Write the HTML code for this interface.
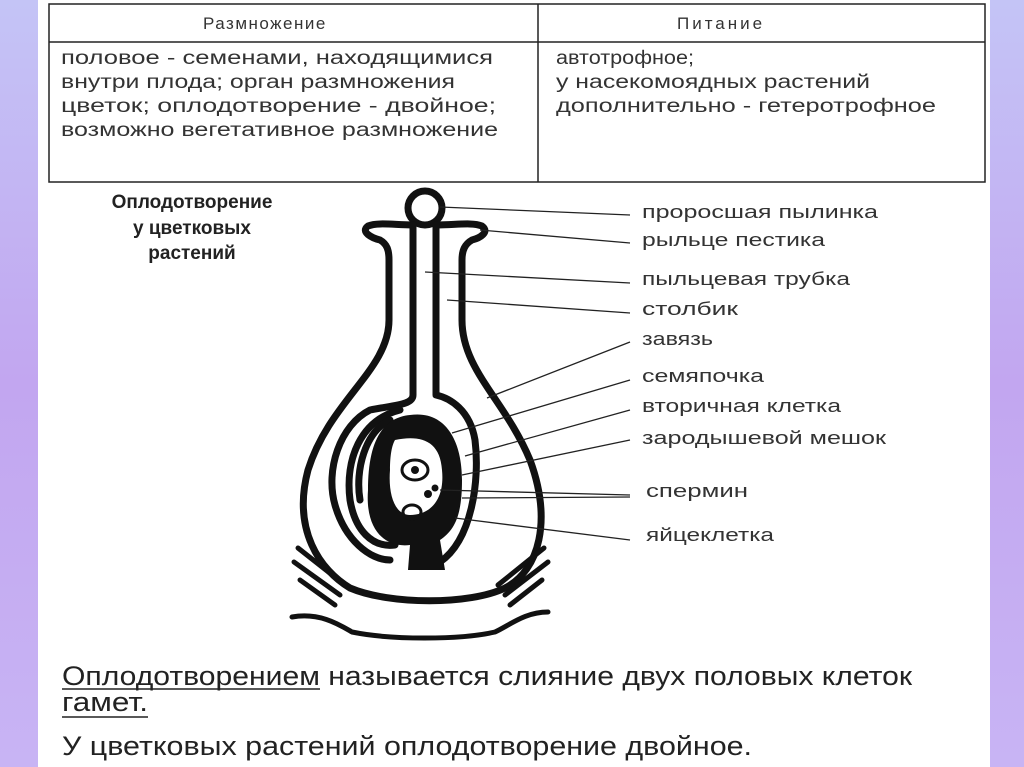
<!DOCTYPE html>
<html><head><meta charset="utf-8"><style>
html,body{margin:0;padding:0;width:1024px;height:767px;overflow:hidden;background:#fff}
svg{display:block}
text{font-family:"Liberation Sans",sans-serif}
</style></head><body>
<svg width="1024" height="767" viewBox="0 0 1024 767" xmlns="http://www.w3.org/2000/svg">
<defs>
<linearGradient id="g" x1="0" y1="0" x2="0" y2="1">
<stop offset="0" stop-color="#c4c4f6"/><stop offset="0.5" stop-color="#c2a6f0"/><stop offset="1" stop-color="#c8b4f4"/>
</linearGradient>
</defs>
<rect x="0" y="0" width="38" height="767" fill="url(#g)"/>
<rect x="990" y="0" width="34" height="767" fill="url(#g)"/>
<rect x="38" y="0" width="952" height="767" fill="#fff"/>
<!-- table -->
<g fill="none" stroke="#222" stroke-width="1.5">
<rect x="49" y="4" width="936" height="178"/>
<line x1="49" y1="42" x2="985" y2="42"/>
<line x1="538" y1="4" x2="538" y2="182"/>
</g>
<g fill="#333" font-size="19">
<text x="203" y="29" font-size="17" letter-spacing="1.5">Размножение</text>
<text x="677" y="29" font-size="17" letter-spacing="3">Питание</text>
<text x="61" y="64" textLength="432" lengthAdjust="spacingAndGlyphs">половое - семенами,  находящимися</text>
<text x="61" y="88" textLength="394" lengthAdjust="spacingAndGlyphs">внутри плода; орган размножения</text>
<text x="61" y="112" textLength="435" lengthAdjust="spacingAndGlyphs">цветок; оплодотворение - двойное;</text>
<text x="61" y="136" textLength="437" lengthAdjust="spacingAndGlyphs">возможно вегетативное  размножение</text>
<text x="556" y="64" textLength="138" lengthAdjust="spacingAndGlyphs">автотрофное;</text>
<text x="556" y="88" textLength="314" lengthAdjust="spacingAndGlyphs">у насекомоядных  растений</text>
<text x="556" y="112" textLength="380" lengthAdjust="spacingAndGlyphs">дополнительно - гетеротрофное</text>
</g>
<!-- title -->
<g font-size="19" font-weight="bold" fill="#222" text-anchor="middle">
<text x="192" y="208">Оплодотворение</text>
<text x="192" y="234">у цветковых</text>
<text x="192" y="259">растений</text>
</g>
<!-- flower -->
<g fill="none" stroke="#111" stroke-width="7" stroke-linejoin="round" stroke-linecap="round">
<path d="M412,225 C395,225 378,222 368,226 C360,232 372,238 380,240 C387,244 389,250 389,260 L389,320 C389,370 330,400 308,470 C292,530 320,570 350,588 C390,605 470,605 505,588 C540,570 552,520 530,460 C505,400 462,370 462,320 L462,260 C462,250 465,244 472,240 C480,238 490,232 482,226 C472,222 455,225 438,225"/>
<circle cx="425" cy="208" r="17"/>
<path d="M413,225 L413,395 C413,405 395,405 370,410 C340,425 325,470 335,505 C345,540 370,560 390,560"/>
<path d="M436,225 L436,395 C450,398 470,410 475,440 C480,480 472,540 440,562"/>
<path d="M400,410 C360,420 345,460 350,500 C355,530 372,548 395,545"/>
<path d="M390,420 C365,432 355,470 360,500"/>
</g>
<path d="M410,415 C445,410 462,440 462,480 C462,515 455,530 440,540 L445,570 L408,570 L410,545 C385,548 365,530 368,490 C368,445 380,418 410,415 Z" fill="#111"/>
<path d="M395,440 C420,435 440,440 442,470 C445,500 430,515 410,515 C395,515 388,495 390,470 C390,455 392,445 395,440 Z" fill="#fff"/>
<g fill="none" stroke="#111" stroke-width="3">
<ellipse cx="415" cy="470" rx="13" ry="10"/>
<ellipse cx="412" cy="512" rx="9" ry="7"/>
</g>
<circle cx="415" cy="470" r="4" fill="#111"/>
<circle cx="428" cy="494" r="4" fill="#111"/>
<circle cx="435" cy="488" r="3.5" fill="#111"/>
<g fill="none" stroke="#111" stroke-width="5" stroke-linecap="round">
<path d="M292,617 C320,612 340,625 352,632 C390,640 460,640 495,632 C510,625 525,612 548,612"/>
<path d="M298,548 L345,585"/><path d="M294,562 L340,595"/><path d="M300,580 L335,605"/>
<path d="M544,548 L498,585"/><path d="M548,562 L505,595"/><path d="M542,580 L510,605"/>
</g>
<g stroke="#222" stroke-width="1.3">
<line x1="440" y1="207" x2="630" y2="215"/>
<line x1="480" y1="230" x2="630" y2="243"/>
<line x1="425" y1="272" x2="630" y2="283"/>
<line x1="447" y1="300" x2="630" y2="313"/>
<line x1="487" y1="398" x2="630" y2="342"/>
<line x1="452" y1="433" x2="630" y2="380"/>
<line x1="465" y1="456" x2="630" y2="410"/>
<line x1="462" y1="475" x2="630" y2="440"/>
<line x1="440" y1="490" x2="630" y2="495"/>
<line x1="462" y1="498" x2="630" y2="497"/>
<line x1="455" y1="518" x2="630" y2="540"/>
</g>
<g font-size="18" fill="#333">
<text x="642" y="218" textLength="236" lengthAdjust="spacingAndGlyphs">проросшая пылинка</text>
<text x="642" y="246" textLength="183" lengthAdjust="spacingAndGlyphs">рыльце пестика</text>
<text x="642" y="285" textLength="208" lengthAdjust="spacingAndGlyphs">пыльцевая трубка</text>
<text x="642" y="315" textLength="96" lengthAdjust="spacingAndGlyphs">столбик</text>
<text x="642" y="345" textLength="71" lengthAdjust="spacingAndGlyphs">завязь</text>
<text x="642" y="382" textLength="122" lengthAdjust="spacingAndGlyphs">семяпочка</text>
<text x="642" y="412" textLength="199" lengthAdjust="spacingAndGlyphs">вторичная клетка</text>
<text x="642" y="444" textLength="244" lengthAdjust="spacingAndGlyphs">зародышевой  мешок</text>
<text x="646" y="497" textLength="102" lengthAdjust="spacingAndGlyphs">спермин</text>
<text x="646" y="541" textLength="128" lengthAdjust="spacingAndGlyphs">яйцеклетка</text>
</g>
<g font-size="27" fill="#222">
<text x="62" y="685" textLength="850" lengthAdjust="spacingAndGlyphs">Оплодотворением называется  слияние двух половых клеток</text>
<text x="62" y="711" textLength="86" lengthAdjust="spacingAndGlyphs">гамет.</text>
<text x="62" y="755" textLength="690" lengthAdjust="spacingAndGlyphs">У цветковых растений оплодотворение двойное.</text>
</g>
<line x1="62" y1="689" x2="320" y2="689" stroke="#222" stroke-width="1.5"/>
<line x1="62" y1="717" x2="148" y2="717" stroke="#222" stroke-width="1.5"/>
</svg>
</body></html>
